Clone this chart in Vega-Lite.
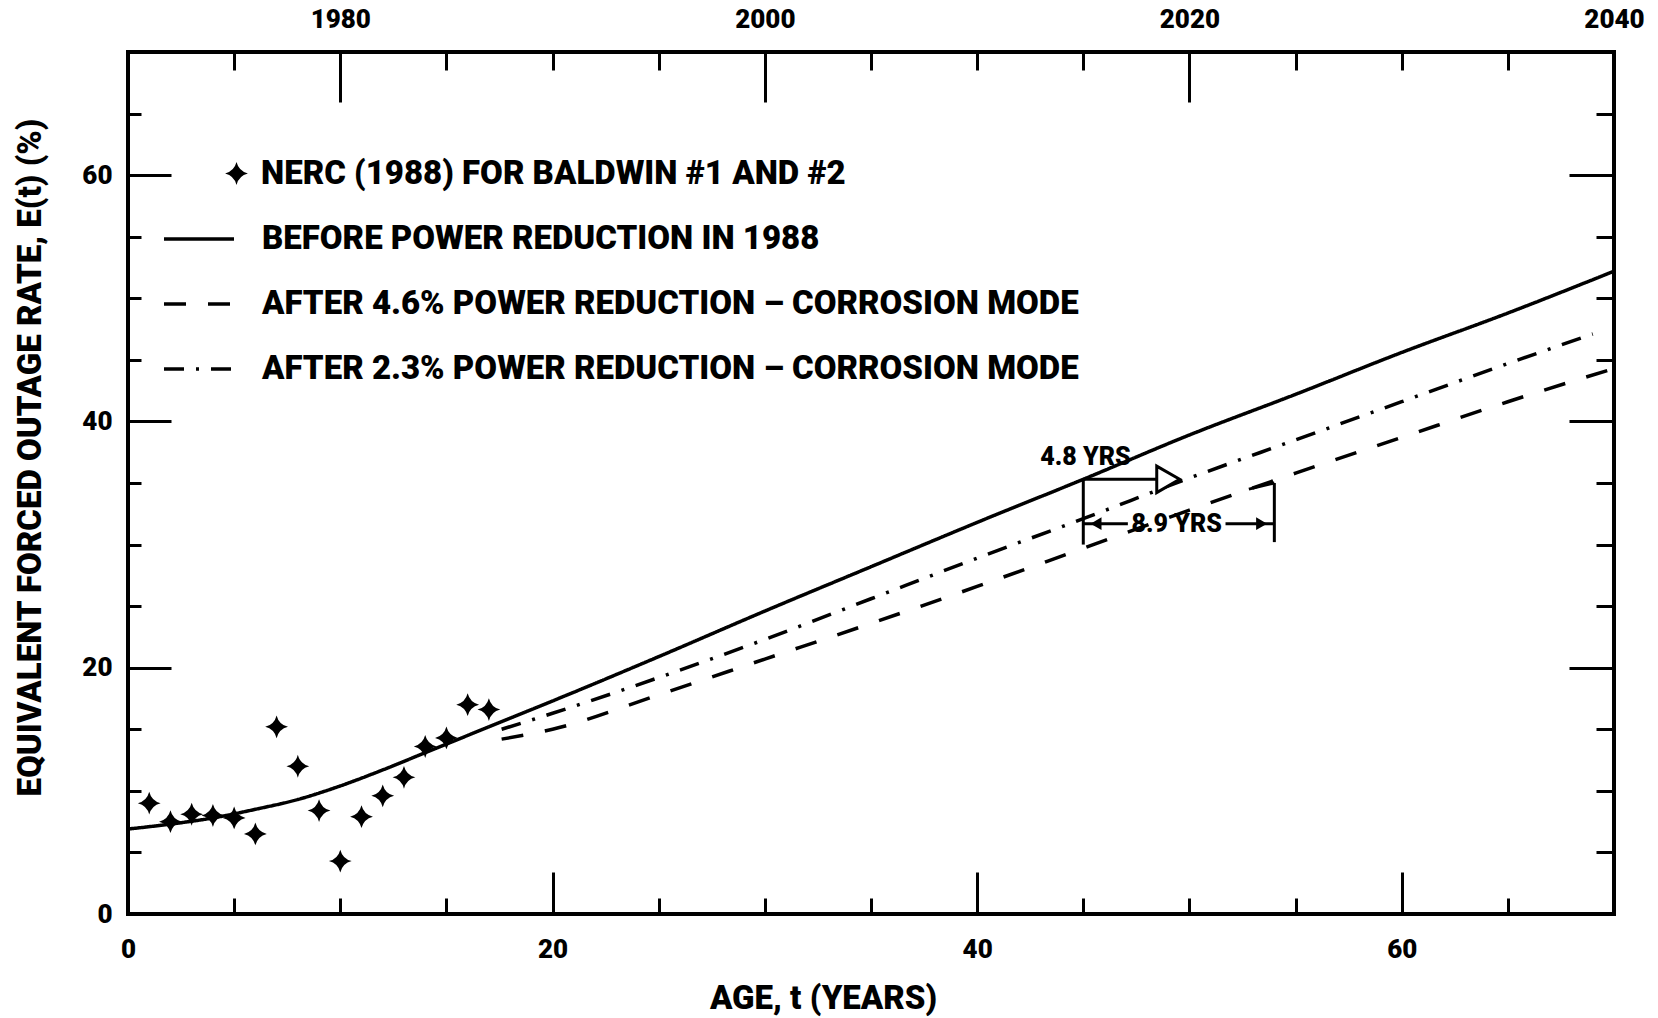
{
  "$schema": "https://vega.github.io/schema/vega-lite/v6.json",
  "width": 1486,
  "height": 862,
  "autosize": "none",
  "padding": {"left": 128, "top": 52, "right": 44, "bottom": 104},
  "background": "white",
  "config": {
    "view": {"stroke": "black", "strokeWidth": 4},
    "font": "Roboto",
    "axis": {"domain": false, "grid": false, "tickColor": "black", "tickWidth": 3, "labelColor": "black", "labelFont": "Roboto", "labelFontWeight": 900, "labelFontSize": 26, "labelFlush": false, "titleColor": "black", "titleFont": "Roboto", "titleFontWeight": 900}
  },
  "datasets": {
    "nerc": [
      {"series": "NERC (1988) FOR BALDWIN #1 AND #2", "age": 1, "rate": 9.0},
      {"series": "NERC (1988) FOR BALDWIN #1 AND #2", "age": 2, "rate": 7.5},
      {"series": "NERC (1988) FOR BALDWIN #1 AND #2", "age": 3, "rate": 8.1},
      {"series": "NERC (1988) FOR BALDWIN #1 AND #2", "age": 4, "rate": 8.0},
      {"series": "NERC (1988) FOR BALDWIN #1 AND #2", "age": 5, "rate": 7.8},
      {"series": "NERC (1988) FOR BALDWIN #1 AND #2", "age": 6, "rate": 6.5},
      {"series": "NERC (1988) FOR BALDWIN #1 AND #2", "age": 7, "rate": 15.2},
      {"series": "NERC (1988) FOR BALDWIN #1 AND #2", "age": 8, "rate": 12.0},
      {"series": "NERC (1988) FOR BALDWIN #1 AND #2", "age": 9, "rate": 8.4},
      {"series": "NERC (1988) FOR BALDWIN #1 AND #2", "age": 10, "rate": 4.3},
      {"series": "NERC (1988) FOR BALDWIN #1 AND #2", "age": 11, "rate": 7.9},
      {"series": "NERC (1988) FOR BALDWIN #1 AND #2", "age": 12, "rate": 9.6},
      {"series": "NERC (1988) FOR BALDWIN #1 AND #2", "age": 13, "rate": 11.1},
      {"series": "NERC (1988) FOR BALDWIN #1 AND #2", "age": 14, "rate": 13.6},
      {"series": "NERC (1988) FOR BALDWIN #1 AND #2", "age": 15, "rate": 14.3},
      {"series": "NERC (1988) FOR BALDWIN #1 AND #2", "age": 16, "rate": 17.0},
      {"series": "NERC (1988) FOR BALDWIN #1 AND #2", "age": 17, "rate": 16.6}
    ],
    "lines": [
      {"series": "BEFORE POWER REDUCTION IN 1988", "age": 0, "rate": 6.9},
      {"series": "BEFORE POWER REDUCTION IN 1988", "age": 2, "rate": 7.3},
      {"series": "BEFORE POWER REDUCTION IN 1988", "age": 4, "rate": 7.8},
      {"series": "BEFORE POWER REDUCTION IN 1988", "age": 6, "rate": 8.5},
      {"series": "BEFORE POWER REDUCTION IN 1988", "age": 8, "rate": 9.3},
      {"series": "BEFORE POWER REDUCTION IN 1988", "age": 10, "rate": 10.4},
      {"series": "BEFORE POWER REDUCTION IN 1988", "age": 12, "rate": 11.7},
      {"series": "BEFORE POWER REDUCTION IN 1988", "age": 14, "rate": 13.1},
      {"series": "BEFORE POWER REDUCTION IN 1988", "age": 16, "rate": 14.5},
      {"series": "BEFORE POWER REDUCTION IN 1988", "age": 18, "rate": 15.9},
      {"series": "BEFORE POWER REDUCTION IN 1988", "age": 20, "rate": 17.3},
      {"series": "BEFORE POWER REDUCTION IN 1988", "age": 25, "rate": 20.9},
      {"series": "BEFORE POWER REDUCTION IN 1988", "age": 30, "rate": 24.6},
      {"series": "BEFORE POWER REDUCTION IN 1988", "age": 35, "rate": 28.2},
      {"series": "BEFORE POWER REDUCTION IN 1988", "age": 40, "rate": 31.8},
      {"series": "BEFORE POWER REDUCTION IN 1988", "age": 45, "rate": 35.3},
      {"series": "BEFORE POWER REDUCTION IN 1988", "age": 50, "rate": 38.9},
      {"series": "BEFORE POWER REDUCTION IN 1988", "age": 55, "rate": 42.2},
      {"series": "BEFORE POWER REDUCTION IN 1988", "age": 60, "rate": 45.6},
      {"series": "BEFORE POWER REDUCTION IN 1988", "age": 65, "rate": 48.8},
      {"series": "BEFORE POWER REDUCTION IN 1988", "age": 70, "rate": 52.2},
      {"series": "AFTER 4.6% POWER REDUCTION – CORROSION MODE", "age": 17.6, "rate": 14.2},
      {"series": "AFTER 4.6% POWER REDUCTION – CORROSION MODE", "age": 20, "rate": 15.0},
      {"series": "AFTER 4.6% POWER REDUCTION – CORROSION MODE", "age": 25, "rate": 17.8},
      {"series": "AFTER 4.6% POWER REDUCTION – CORROSION MODE", "age": 30, "rate": 20.7},
      {"series": "AFTER 4.6% POWER REDUCTION – CORROSION MODE", "age": 35, "rate": 23.6},
      {"series": "AFTER 4.6% POWER REDUCTION – CORROSION MODE", "age": 40, "rate": 26.6},
      {"series": "AFTER 4.6% POWER REDUCTION – CORROSION MODE", "age": 45, "rate": 29.7},
      {"series": "AFTER 4.6% POWER REDUCTION – CORROSION MODE", "age": 50, "rate": 32.8},
      {"series": "AFTER 4.6% POWER REDUCTION – CORROSION MODE", "age": 55, "rate": 35.8},
      {"series": "AFTER 4.6% POWER REDUCTION – CORROSION MODE", "age": 60, "rate": 38.7},
      {"series": "AFTER 4.6% POWER REDUCTION – CORROSION MODE", "age": 65, "rate": 41.6},
      {"series": "AFTER 4.6% POWER REDUCTION – CORROSION MODE", "age": 70, "rate": 44.3},
      {"series": "AFTER 2.3% POWER REDUCTION – CORROSION MODE", "age": 17.6, "rate": 15.0},
      {"series": "AFTER 2.3% POWER REDUCTION – CORROSION MODE", "age": 20, "rate": 16.3},
      {"series": "AFTER 2.3% POWER REDUCTION – CORROSION MODE", "age": 25, "rate": 19.2},
      {"series": "AFTER 2.3% POWER REDUCTION – CORROSION MODE", "age": 30, "rate": 22.3},
      {"series": "AFTER 2.3% POWER REDUCTION – CORROSION MODE", "age": 35, "rate": 25.6},
      {"series": "AFTER 2.3% POWER REDUCTION – CORROSION MODE", "age": 40, "rate": 28.9},
      {"series": "AFTER 2.3% POWER REDUCTION – CORROSION MODE", "age": 45, "rate": 32.1},
      {"series": "AFTER 2.3% POWER REDUCTION – CORROSION MODE", "age": 50, "rate": 35.4},
      {"series": "AFTER 2.3% POWER REDUCTION – CORROSION MODE", "age": 55, "rate": 38.5},
      {"series": "AFTER 2.3% POWER REDUCTION – CORROSION MODE", "age": 60, "rate": 41.6},
      {"series": "AFTER 2.3% POWER REDUCTION – CORROSION MODE", "age": 65, "rate": 44.7},
      {"series": "AFTER 2.3% POWER REDUCTION – CORROSION MODE", "age": 69, "rate": 47.1}
    ],
    "rules": [
      {"age": 45, "age2": 45, "rate": 30.0, "rate2": 35.3},
      {"age": 54, "age2": 54, "rate": 30.2, "rate2": 35.0},
      {"age": 52.8, "age2": 54, "rate": 34.5, "rate2": 35.0},
      {"age": 45, "age2": 48.9, "rate": 35.3, "rate2": 35.3},
      {"age": 45, "age2": 47.1, "rate": 31.7, "rate2": 31.7},
      {"age": 51.7, "age2": 54, "rate": 31.7, "rate2": 31.7}
    ],
    "headsLeft": [{"age": 45.6, "rate": 31.7}],
    "headsRight": [{"age": 53.4, "rate": 31.7}],
    "headsOpen": [{"age": 49.0, "rate": 35.3}],
    "notes": [
      {"age": 45.1, "rate": 37.1, "label": "4.8  YRS"},
      {"age": 49.4, "rate": 31.7, "label": "8.9 YRS"}
    ]
  },
  "resolve": {"axis": {"x": "independent", "y": "independent"}},
  "layer": [
    {
      "data": {"name": "nerc"},
      "mark": {"type": "point", "opacity": 0},
      "encoding": {
        "x": {"field": "age", "type": "quantitative", "scale": {"domain": [0, 70], "nice": false, "zero": false},
          "axis": {"orient": "bottom", "values": [0, 20, 40, 60], "tickSize": -42, "labelPadding": 64, "title": "AGE, t (YEARS)", "titleFontSize": 33, "titleX": 695, "titleY": 68, "titleBaseline": "top", "titleAlign": "center"}},
        "y": {"field": "rate", "type": "quantitative", "scale": {"domain": [0, 70], "nice": false, "zero": false},
          "axis": {"orient": "left", "values": [0, 20, 40, 60], "tickSize": -43, "labelPadding": 59, "title": "EQUIVALENT FORCED OUTAGE RATE, E(t) (%)", "titleFontSize": 33, "titleAngle": -90, "titleX": -98, "titleY": 405, "titleBaseline": "middle", "titleAlign": "center"}}
      }
    },
    {
      "data": {"name": "nerc"},
      "mark": {"type": "point", "opacity": 0},
      "encoding": {
        "x": {"field": "age", "type": "quantitative", "scale": {"domain": [0, 70], "nice": false, "zero": false},
          "axis": {"orient": "bottom", "values": [5, 10, 15, 25, 30, 35, 45, 50, 55, 65], "tickSize": -16, "labels": false, "title": null}},
        "y": {"field": "rate", "type": "quantitative", "scale": {"domain": [0, 70], "nice": false, "zero": false},
          "axis": {"orient": "left", "values": [5, 10, 15, 25, 30, 35, 45, 50, 55, 65], "tickSize": -13, "labels": false, "title": null}}
      }
    },
    {
      "data": {"name": "nerc"},
      "mark": {"type": "point", "opacity": 0},
      "encoding": {
        "x": {"field": "age", "type": "quantitative", "scale": {"domain": [0, 70], "nice": false, "zero": false},
          "axis": {"orient": "top", "values": [10, 30, 50, 70], "labelExpr": "datum.value + 1970", "tickSize": -50, "labelPadding": 70, "title": null}},
        "y": {"field": "rate", "type": "quantitative", "scale": {"domain": [0, 70], "nice": false, "zero": false},
          "axis": {"orient": "right", "values": [20, 40, 60], "tickSize": -45, "labels": false, "title": null}}
      }
    },
    {
      "data": {"name": "nerc"},
      "mark": {"type": "point", "opacity": 0},
      "encoding": {
        "x": {"field": "age", "type": "quantitative", "scale": {"domain": [0, 70], "nice": false, "zero": false},
          "axis": {"orient": "top", "values": [5, 15, 20, 25, 35, 40, 45, 55, 60, 65], "tickSize": -18, "labels": false, "title": null}},
        "y": {"field": "rate", "type": "quantitative", "scale": {"domain": [0, 70], "nice": false, "zero": false},
          "axis": {"orient": "right", "values": [5, 10, 15, 25, 30, 35, 45, 50, 55, 65], "tickSize": -18, "labels": false, "title": null}}
      }
    },
    {
      "data": {"name": "lines"},
      "mark": {"type": "line", "color": "black", "strokeWidth": 3.5, "interpolate": "monotone"},
      "encoding": {
        "x": {"field": "age", "type": "quantitative", "scale": {"domain": [0, 70], "nice": false, "zero": false}, "axis": null},
        "y": {"field": "rate", "type": "quantitative", "scale": {"domain": [0, 70], "nice": false, "zero": false}, "axis": null},
        "strokeDash": {"field": "series", "type": "nominal",
          "scale": {"domain": ["BEFORE POWER REDUCTION IN 1988", "AFTER 4.6% POWER REDUCTION – CORROSION MODE", "AFTER 2.3% POWER REDUCTION – CORROSION MODE"], "range": [[1, 0], [22, 22], [20, 12, 3, 12]]},
          "legend": {"orient": "none", "legendX": 34, "legendY": 150, "title": null, "padding": 0, "symbolType": "stroke", "symbolSize": 4900, "symbolStrokeWidth": 3.5, "symbolStrokeColor": "black", "labelFont": "Roboto", "labelFontSize": 33, "labelFontWeight": 900, "labelColor": "black", "labelLimit": 2000, "labelOffset": 26, "rowPadding": 11}}
      }
    },
    {
      "data": {"name": "nerc"},
      "mark": {"type": "point", "filled": true, "color": "black", "size": 520, "opacity": 1},
      "encoding": {
        "x": {"field": "age", "type": "quantitative", "scale": {"domain": [0, 70], "nice": false, "zero": false}, "axis": null},
        "y": {"field": "rate", "type": "quantitative", "scale": {"domain": [0, 70], "nice": false, "zero": false}, "axis": null},
        "shape": {"field": "series", "type": "nominal",
          "scale": {"range": ["M0,-1 Q0.2,-0.2 1,0 Q0.2,0.2 0,1 Q-0.2,0.2 -1,0 Q-0.2,-0.2 0,-1 Z"]},
          "legend": {"orient": "none", "legendX": 92, "legendY": 105, "title": null, "padding": 0, "symbolSize": 520, "symbolFillColor": "black", "symbolStrokeColor": "black", "symbolStrokeWidth": 0, "labelFont": "Roboto", "labelFontSize": 33, "labelFontWeight": 900, "labelColor": "black", "labelLimit": 2000, "labelOffset": 8}}
      }
    },
    {
      "data": {"name": "rules"},
      "mark": {"type": "rule", "color": "black", "strokeWidth": 3},
      "encoding": {
        "x": {"field": "age", "type": "quantitative", "scale": {"domain": [0, 70], "nice": false, "zero": false}, "axis": null},
        "x2": {"field": "age2"},
        "y": {"field": "rate", "type": "quantitative", "scale": {"domain": [0, 70], "nice": false, "zero": false}, "axis": null},
        "y2": {"field": "rate2"}
      }
    },
    {
      "data": {"name": "headsLeft"},
      "mark": {"type": "point", "shape": "triangle-left", "filled": true, "color": "black", "size": 160, "opacity": 1},
      "encoding": {
        "x": {"field": "age", "type": "quantitative", "scale": {"domain": [0, 70], "nice": false, "zero": false}, "axis": null},
        "y": {"field": "rate", "type": "quantitative", "scale": {"domain": [0, 70], "nice": false, "zero": false}, "axis": null}
      }
    },
    {
      "data": {"name": "headsRight"},
      "mark": {"type": "point", "shape": "triangle-right", "filled": true, "color": "black", "size": 160, "opacity": 1},
      "encoding": {
        "x": {"field": "age", "type": "quantitative", "scale": {"domain": [0, 70], "nice": false, "zero": false}, "axis": null},
        "y": {"field": "rate", "type": "quantitative", "scale": {"domain": [0, 70], "nice": false, "zero": false}, "axis": null}
      }
    },
    {
      "data": {"name": "headsOpen"},
      "mark": {"type": "point", "shape": "triangle-right", "filled": false, "color": "black", "fill": "white", "strokeWidth": 3, "size": 700, "opacity": 1},
      "encoding": {
        "x": {"field": "age", "type": "quantitative", "scale": {"domain": [0, 70], "nice": false, "zero": false}, "axis": null},
        "y": {"field": "rate", "type": "quantitative", "scale": {"domain": [0, 70], "nice": false, "zero": false}, "axis": null}
      }
    },
    {
      "data": {"name": "notes"},
      "mark": {"type": "text", "color": "black", "font": "Roboto", "fontSize": 25, "fontWeight": 900, "align": "center", "baseline": "middle"},
      "encoding": {
        "x": {"field": "age", "type": "quantitative", "scale": {"domain": [0, 70], "nice": false, "zero": false}, "axis": null},
        "y": {"field": "rate", "type": "quantitative", "scale": {"domain": [0, 70], "nice": false, "zero": false}, "axis": null},
        "text": {"field": "label"}
      }
    }
  ]
}
